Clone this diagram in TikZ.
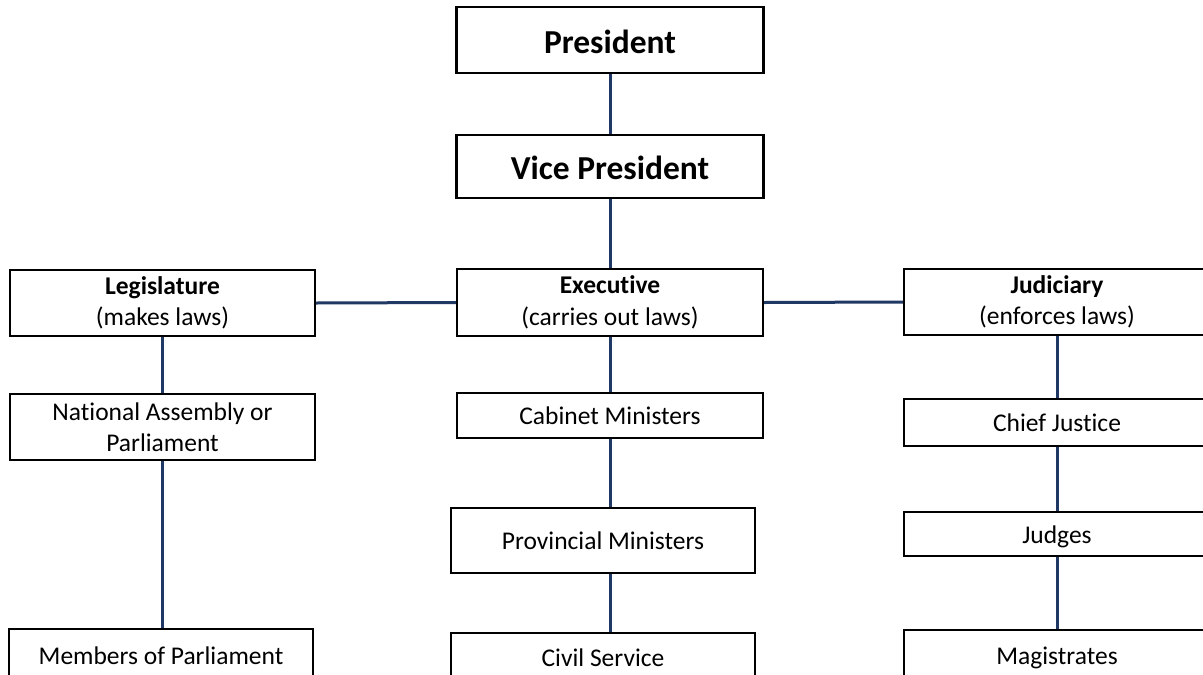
\documentclass[tikz,border=0pt]{standalone}
\usepackage{fontspec}
\setmainfont[Ligatures=NoCommon]{Carlito}
\definecolor{linknavy}{HTML}{1F3864}
\begin{document}
\begin{tikzpicture}[x=1pt,y=-1pt,
  box/.style={draw=black, line width=2.4pt, fill=white, inner sep=0pt, align=center, anchor=center},
  big/.style={box, font=\fontsize{33.5}{38}\selectfont\bfseries, text height=28, text depth=2},
  mid/.style={box, font=\fontsize{25.5}{31.5}\selectfont},
  one/.style={mid, text height=20, text depth=2},
  link/.style={draw=linknavy, line width=3pt}]
\path[use as bounding box] (0,0) rectangle (1203,675);
\clip (0,0) rectangle (1203,675);
\fill[white] (0,0) rectangle (1203,675);

% top of the chart
\node[big, minimum width=307, minimum height=66] (pres) at (610,40) {President};
\node[big, minimum width=307, minimum height=63] (vp) at (610,166.5) {Vice President};

% the three branches
\node[mid, minimum width=305, minimum height=66] (leg) at (162.5,303) {\textbf{Legislature}\\(makes laws)};
\node[mid, minimum width=306, minimum height=67] (exe) at (610,302.5) {\textbf{Executive}\\(carries out laws)};
\node[mid, minimum width=306, minimum height=66] (jud) at (1057,302) {\textbf{Judiciary}\\(enforces laws)};

% legislature column
\node[mid, minimum width=305, minimum height=66] (nat) at (162.5,427) {National Assembly or\\Parliament};
\node[one, minimum width=304, minimum height=52] (mem) at (161,655) {Members of Parliament};

% executive column
\node[one, minimum width=306, minimum height=45] (cab) at (610,415.5) {Cabinet Ministers};
\node[one, minimum width=304, minimum height=65] (prov) at (603,540.5) {Provincial Ministers};
\node[one, minimum width=304, minimum height=48] (civ) at (603,657) {Civil Service};

% judiciary column
\node[one, minimum width=306, minimum height=47] (cj) at (1057,422.5) {Chief Justice};
\node[one, minimum width=306, minimum height=44] (jdg) at (1057,534) {Judges};
\node[one, minimum width=306, minimum height=50] (mag) at (1057,655) {Magistrates};

% connectors
\draw[link] (pres.south) -- (vp.north);
\draw[link] (vp.south) -- (exe.north);
\draw[link] (leg.east) -- (exe.west);
\draw[link] (exe.east) -- (jud.west);
\draw[link] (leg.south) -- (nat.north);
\draw[link] (nat.south -| leg.south) -- (mem.north -| leg.south);
\draw[link] (exe.south) -- (cab.north);
\draw[link] (cab.south) -- (cab.south |- prov.north);
\draw[link] (prov.south -| cab.south) -- (civ.north -| cab.south);
\draw[link] (jud.south) -- (cj.north);
\draw[link] (cj.south) -- (jdg.north);
\draw[link] (jdg.south) -- (mag.north);
\end{tikzpicture}
\end{document}
